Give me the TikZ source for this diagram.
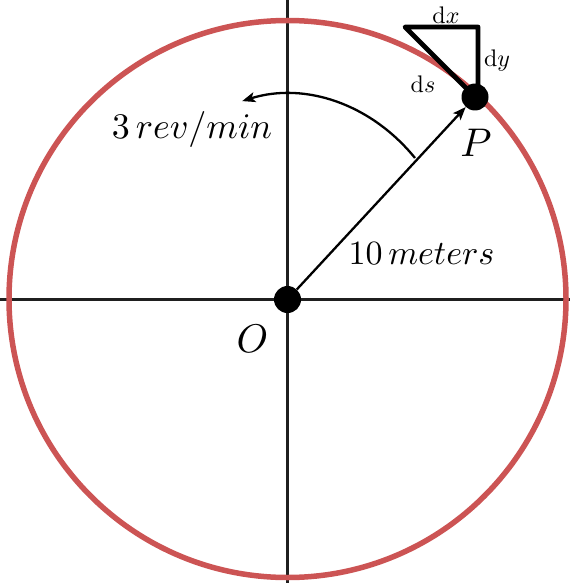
\documentclass[tikz,border=0pt]{standalone}
\usetikzlibrary{arrows.meta}
\definecolor{wheelred}{RGB}{204,84,84}
\begin{document}
\begin{tikzpicture}[x=1pt,y=-1pt,line join=round,
  axisline/.style={line width=3pt,black!88},
  wheel/.style={line width=5.5pt,wheelred},
  dot/.style={circle,fill=black,inner sep=0pt,minimum size=27pt},
  thinline/.style={line width=2.3pt,black},
  tri/.style={line width=4.8pt,black},
  tip/.style={-{Stealth[length=13pt,width=10pt,inset=3pt]}},
  big/.style={font=\normalsize,inner sep=0pt,scale=3.6},
  mid/.style={font=\normalsize,inner sep=0pt,scale=3.4},
  letter/.style={font=\normalsize,inner sep=0pt,scale=4.0},
  small/.style={font=\normalsize,inner sep=0pt,scale=2.4}]
\useasboundingbox (0,0) rectangle (570,583);
\draw[axisline] (0,299) -- (570,299);
\draw[axisline] (287.5,0) -- (287.5,583);
\draw[wheel] (287.5,299) circle[radius=278.5];
\coordinate (T1) at (405,27);
\coordinate (T2) at (478,27);
\coordinate (T3) at (478,92);
\coordinate (Pc) at (475,97);
\draw[tri] (Pc) -- (T1) -- (T2) -- (T3);
\node[dot] (O) at (287.5,299.5) {};
\node[dot] (P) at (Pc) {};
\draw[thinline,tip] (O) -- (P);
\coordinate (A) at (415,158);
\draw[thinline,tip] (A) arc[start angle=-43.5,end angle=-105,x radius=175.6,y radius=205];
\node[big] (rev) at (192,130) {$3\,rev/min$};
\node[mid] (met) at (421.5,254) {$10\,meters$};
\node[letter] (Olab) at (252.5,339) {$O$};
\node[letter] (Plab) at (476,143) {$P$};
\node[small] (dx) at (446,15) {$\mathrm{d}x$};
\node[small] (dy) at (497,61) {$\mathrm{d}y$};
\node[small] (ds) at (423,84) {$\mathrm{d}s$};
\end{tikzpicture}
\end{document}
